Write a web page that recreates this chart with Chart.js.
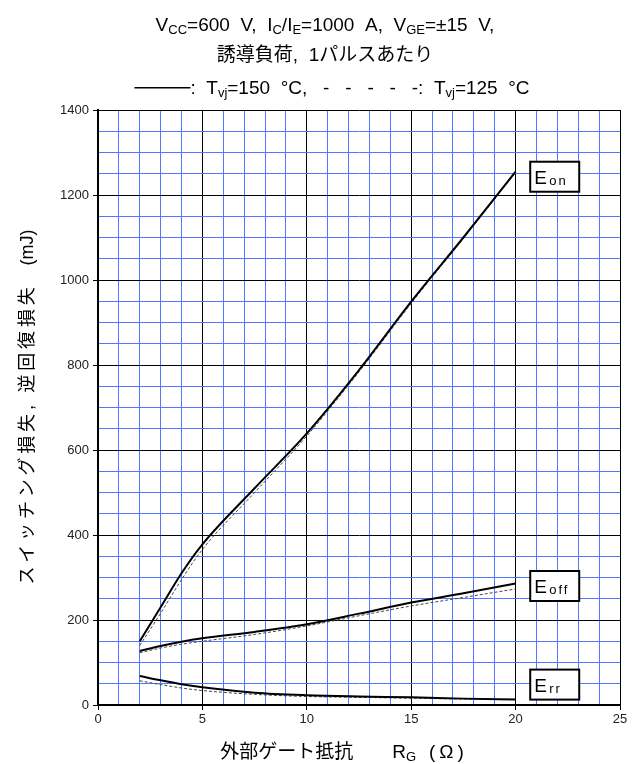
<!DOCTYPE html>
<html>
<head>
<meta charset="utf-8">
<script src="https://cdn.jsdelivr.net/npm/chart.js@4/dist/chart.umd.min.js"></script>
<style>
  html, body { margin: 0; padding: 0; background: #fff; }
  #wrap { width: 642px; height: 764px; }
</style>
</head>
<body>
<div id="wrap"><canvas id="chart" width="642" height="764"></canvas></div>
<script>
// gate resistance (ohm)
const rg = [2, 3, 4, 5, 7.5, 10, 12.5, 15, 17.5, 20];
// switching energies (mJ), Tvj = 150 C (solid) and 125 C (dashed)
const eon150 = [150, 230, 310, 378, 510, 639, 788, 949, 1100, 1255];
const eon125 = [140, 216, 295, 366, 500, 633, 784, 945, 1098, 1253];
const eoff150 = [127, 139, 149, 157, 172, 190, 215, 241, 263, 286];
const eoff125 = [123, 134, 143, 150, 166, 186, 210, 233, 253, 273];
const err150 = [68, 58, 49, 42, 29, 23, 20, 18, 15, 13];
const err125 = [57, 48, 40, 34, 25, 20, 18, 16, 14, 13];

const curveNames = ["on", "off", "rr"];
const curveLabelY = [1243, 280, 48];

const LATIN = '"Liberation Sans", Arial, "Noto Sans CJK JP", sans-serif';
const BLUE = "#4d78ff";

function pts(ys) {
  return rg.map((x, i) => ({ x: x, y: ys[i] }));
}

function solid(ys) {
  return {
    data: pts(ys),
    borderColor: "#000",
    borderWidth: 2,
    pointRadius: 0,
    cubicInterpolationMode: "monotone"
  };
}

function dashed(ys) {
  return {
    data: pts(ys),
    borderColor: "#444",
    borderWidth: 1,
    borderDash: [3, 2],
    pointRadius: 0,
    cubicInterpolationMode: "monotone"
  };
}

// draw text pieces with subscripts, centred on cx
function richText(ctx, parts, cx, y, size) {
  const subSize = Math.round(size * 0.7);
  let total = 0;
  parts.forEach((p) => {
    ctx.font = (p.sub ? subSize : size) + "px " + LATIN;
    ctx.letterSpacing = (p.sp || 0) + "px";
    p.w = p.line || p.gap || ctx.measureText(p.t).width;
    total += p.w;
  });
  let x = cx - total / 2;
  ctx.textBaseline = "alphabetic";
  ctx.textAlign = "left";
  parts.forEach((p) => {
    if (p.line) {
      ctx.beginPath();
      ctx.lineWidth = 1.5;
      ctx.strokeStyle = "#000";
      ctx.moveTo(x, y - size * 0.33);
      ctx.lineTo(x + p.line, y - size * 0.33);
      ctx.stroke();
    } else if (p.t) {
      ctx.font = (p.sub ? subSize : size) + "px " + LATIN;
      ctx.letterSpacing = (p.sp || 0) + "px";
      ctx.fillText(p.t, x, p.sub ? y + 3 : y);
    }
    x += p.w;
  });
  ctx.letterSpacing = "0px";
}

const textPlugin = {
  id: "texts",
  afterDraw(chart) {
    const ctx = chart.ctx;
    ctx.save();
    ctx.fillStyle = "#000";
    richText(ctx, [
      { t: "V" }, { t: "CC", sub: true }, { t: "=600  V,  I" }, { t: "C", sub: true },
      { t: "/I" }, { t: "E", sub: true }, { t: "=1000  A,  V" }, { t: "GE", sub: true },
      { t: "=±15  V," }
    ], 325, 31, 19);
    richText(ctx, [{ t: "誘導負荷,  1パルスあたり" }], 325, 61, 19);
    richText(ctx, [
      { line: 56 }, { t: ":  T" }, { t: "vj", sub: true }, { t: "=150  °C,   -   -   -   -   -:  T" },
      { t: "vj", sub: true }, { t: "=125  °C" }
    ], 332, 94, 19);

    // x axis title
    richText(ctx, [
      { t: "外部ゲート抵抗" }, { gap: 39 }, { t: "R" }, { t: "G", sub: true },
      { gap: 13 }, { t: "(Ω)", sp: 4 }
    ], 344, 758, 19);

    // y axis title
    ctx.translate(28, 407);
    ctx.rotate(-Math.PI / 2);
    ctx.textBaseline = "middle";
    ctx.textAlign = "left";
    ctx.font = "18px " + LATIN;
    ctx.letterSpacing = "3.8px";
    const main = "スイッチング損失, 逆回復損失";
    const w1 = ctx.measureText(main).width;
    ctx.letterSpacing = "0px";
    const unit = "　(mJ)";
    const w2 = ctx.measureText(unit).width;
    let sx = -(w1 + w2) / 2;
    ctx.letterSpacing = "3.8px";
    ctx.fillText(main, sx, 0);
    ctx.letterSpacing = "0px";
    ctx.fillText(unit, sx + w1, 0);
    ctx.restore();

    // curve label boxes
    const xs = chart.scales.x, ys = chart.scales.y;
    ctx.save();
    curveNames.forEach((name, i) => {
      const left = xs.getPixelForValue(20.7);
      const cy = ys.getPixelForValue(curveLabelY[i]);
      ctx.fillStyle = "#fff";
      ctx.fillRect(left, cy - 15, 49, 30);
      ctx.lineWidth = 2;
      ctx.strokeStyle = "#000";
      ctx.strokeRect(left, cy - 15, 49, 30);
      ctx.fillStyle = "#000";
      ctx.textAlign = "left";
      ctx.textBaseline = "alphabetic";
      ctx.font = "19px " + LATIN;
      ctx.fillText("E", left + 4, cy + 7);
      ctx.font = "13px " + LATIN;
      ctx.letterSpacing = "2px";
      ctx.fillText(name, left + 19, cy + 8);
      ctx.letterSpacing = "0px";
    });
    ctx.restore();
  }
};

new Chart(document.getElementById("chart"), {
  type: "line",
  data: {
    datasets: [
      solid(eon150), solid(eoff150), solid(err150),
      dashed(eon125), dashed(eoff125), dashed(err125)
    ]
  },
  options: {
    responsive: false,
    animation: false,
    layout: { padding: { top: 110, right: 22, left: 0, bottom: 0 } },
    plugins: { legend: { display: false }, tooltip: { enabled: false } },
    scales: {
      x: {
        type: "linear",
        min: 0,
        max: 25,
        afterFit(scale) { scale.height = 59; },
        border: { color: "#000", width: 2 },
        grid: {
          color: (c) => (c.tick.value % 5 === 0 ? "#000" : BLUE),
          tickColor: (c) => (c.tick.value % 5 === 0 ? "#000" : "rgba(0,0,0,0)"),
          tickLength: 5
        },
        ticks: {
          stepSize: 1,
          autoSkip: false,
          maxRotation: 0,
          padding: 2,
          color: "#222",
          font: { family: LATIN, size: 13 },
          callback: (v) => (v % 5 === 0 ? v : "")
        }
      },
      y: {
        min: 0,
        max: 1400,
        afterFit(scale) { scale.width = 98; },
        border: { color: "#000", width: 2 },
        grid: {
          color: (c) => (c.tick.value % 200 === 0 ? "#000" : BLUE),
          tickColor: (c) => (c.tick.value % 200 === 0 ? "#000" : "rgba(0,0,0,0)"),
          tickLength: 5
        },
        ticks: {
          stepSize: 50,
          autoSkip: false,
          padding: 4,
          color: "#222",
          font: { family: LATIN, size: 13 },
          callback: (v) => (v % 200 === 0 ? v : "")
        }
      }
    }
  },
  plugins: [textPlugin]
});
</script>
</body>
</html>
